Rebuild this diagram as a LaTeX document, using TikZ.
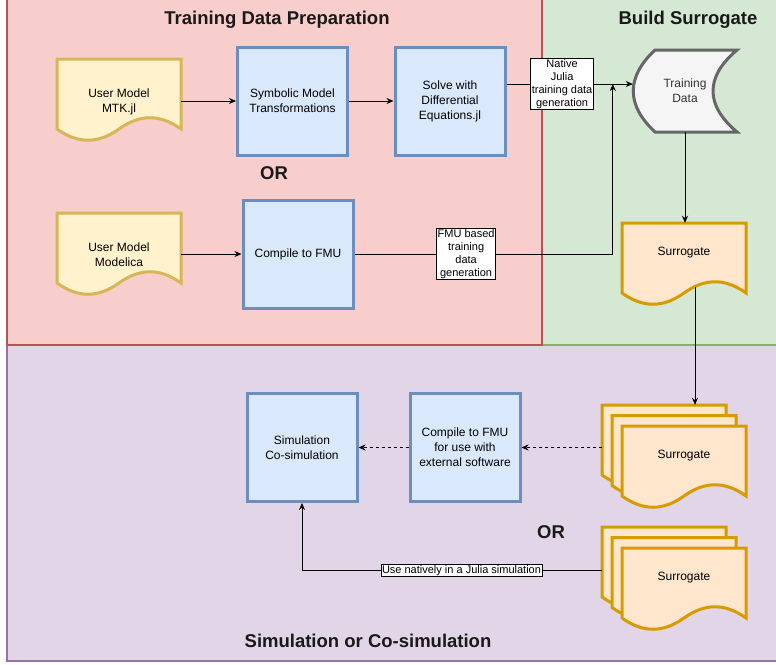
\documentclass[tikz,border=0pt]{standalone}
\usepackage{fontspec}
\setmainfont{Liberation Sans}
\usetikzlibrary{
    arrows.meta,
    calc,
}

\definecolor{prepfill}{HTML}{F8CECC}
\definecolor{prepline}{HTML}{B85450}
\definecolor{buildfill}{HTML}{D5E8D4}
\definecolor{buildline}{HTML}{82B366}
\definecolor{simfill}{HTML}{E1D5E7}
\definecolor{simline}{HTML}{9673A6}
\definecolor{procfill}{HTML}{DAE8FC}
\definecolor{procline}{HTML}{6C8EBF}
\definecolor{userfill}{HTML}{FFF2CC}
\definecolor{userline}{HTML}{D6B656}
\definecolor{surrfill}{HTML}{FFE6CC}
\definecolor{surrline}{HTML}{D79B00}
\definecolor{datafill}{HTML}{F5F5F5}
\definecolor{dataline}{HTML}{666666}
\definecolor{datatext}{HTML}{333333}

\newcommand{\diagfont}{\fontsize{12}{15}\selectfont}
\newcommand{\lblfont}{\fontsize{11}{13}\selectfont}

% name, left, top, style, text, text offset
\newcommand{\wavydoc}[6]{%
    \draw[#4] (#2,#3) -- ({#2+124},#3) -- ({#2+124},{#3+70})
        .. controls ({#2+103},{#3+55}) and ({#2+83},{#3+55}) .. ({#2+62},{#3+70})
        .. controls ({#2+41},{#3+85}) and ({#2+21},{#3+85}) .. (#2,{#3+70}) -- cycle;
    \node[docbase] (#1) at ({#2+62},{#3+40.5}) {};
    \node[doctext] (#1-txt) at ({#2+62},{#3+#6}) {#5};
}

\begin{document}
\begin{tikzpicture}[x=1pt, y=-1pt,
        region/.style={line width=1.5pt},
        title/.style={font=\fontsize{18.5}{22}\selectfont\bfseries, text=black!90},
        procbox/.style={rectangle, draw=procline, fill=procfill, line width=3pt, minimum width=110pt, minimum height=108pt, align=center, font=\diagfont},
        userdoc/.style={draw=userline, fill=userfill, line width=3pt, line join=miter},
        surrdoc/.style={draw=surrline, fill=surrfill, line width=3pt, line join=miter},
        docbase/.style={rectangle, minimum width=124pt, minimum height=81pt, inner sep=0pt},
        doctext/.style={align=center, font=\diagfont},
        lbl/.style={rectangle, draw=black, fill=white, line width=0.8pt, inner sep=1pt, align=center, font=\lblfont},
        arr/.style={-{Stealth[length=7pt,width=6pt]}, line width=0.8pt},
        dasharr/.style={arr, dash pattern=on 3pt off 3pt},
        ]
        \path[clip] (0,0) rectangle (776,664);
        \fill[white] (0,0) rectangle (776,664);
        % regions
        \draw[region, draw=simline, fill=simfill] (7,345) rectangle (790,661);
        \draw[region, draw=buildline, fill=buildfill] (542,-10) rectangle (790,345);
        \draw[region, draw=prepline, fill=prepfill] (7,-10) rectangle (542,345);

        \node[title] (prep-title)  at (277,20)  {Training Data Preparation};
        \node[title] (build-title) at (688,20)  {Build Surrogate};
        \node[title] (sim-title)   at (368,641) {Simulation or Co-simulation};
        \node[title] (or-top)      at (274,173) {OR};
        \node[title] (or-bottom)   at (551,532) {OR};

        % training data preparation
        \wavydoc{mtk}{57}{59}{userdoc}{User Model\\MTK.jl}{43}
        \wavydoc{modelica}{57}{213}{userdoc}{User Model\\Modelica}{42}
        \node[procbox] (symb)  at (292.5,101) {Symbolic Model\\Transformations};
        \node[procbox] (solve) at (450,101)   {Solve with\\Differential\\Equations.jl};
        \node[procbox] (fmu)   at (298,254)   {Compile to FMU};

        % build surrogate
        \draw[draw=dataline, fill=datafill, line width=3pt, line join=miter]
            (655,50) -- (737,50) .. controls (705,77) and (705,105) .. (737,132)
            -- (655,132) .. controls (626,105) and (626,77) .. (655,50) -- cycle;
        \node[docbase, minimum width=104pt, minimum height=82pt, align=center, font=\diagfont, text=datatext, inner sep=0pt] (tdata) at (685,91) {Training\\Data};
        \wavydoc{surr}{622}{223}{surrdoc}{Surrogate}{30}

        % simulation
        \wavydoc{stackA-back}{602}{405}{surrdoc}{}{30}
        \wavydoc{stackA-mid}{612}{415.5}{surrdoc}{}{30}
        \wavydoc{stackA}{622}{426}{surrdoc}{Surrogate}{30}
        \wavydoc{stackB-back}{602}{527}{surrdoc}{}{30}
        \wavydoc{stackB-mid}{612}{537.5}{surrdoc}{}{30}
        \wavydoc{stackB}{622}{548}{surrdoc}{Surrogate}{30}
        \node[procbox] (fmuext) at (465,447.5) {Compile to FMU\\for use with\\external software};
        \node[procbox] (sim)    at (302,447.5) {Simulation\\Co-simulation};

        % connectors
        \coordinate (tdata-in) at ([yshift=7pt]tdata.west);
        \coordinate (join) at ($(tdata-in)+(-20,0)$);
        \draw[arr] (mtk.east |- symb.west) -- (symb.west);
        \draw[arr] (symb.east) -- (solve.west);
        \draw[arr] (modelica.east |- fmu.west) -- (fmu.west);
        \draw[arr] (solve.east |- tdata-in) -- (tdata-in)
            node[pos=0.44, lbl] {Native\\Julia\\training data\\generation};
        \draw[arr] (fmu.east) -| (join)
            node[pos=0.216, lbl] {FMU based\\training\\data\\generation};
        \draw[arr] (tdata.south) -- (tdata.south |- surr.north);
        \draw[arr] ([xshift=11pt,yshift=17pt]surr.south) -- ([xshift=31pt]stackA-back.north);
        \draw[dasharr] (stackA-back.west |- fmuext.east) -- (fmuext.east);
        \draw[dasharr] (fmuext.west) -- (sim.east);
        \draw[arr] ([yshift=-3pt]stackB-back.west) -| (sim.south)
            node[pos=0.234, lbl] {Use natively in a Julia simulation};
\end{tikzpicture}
\end{document}
